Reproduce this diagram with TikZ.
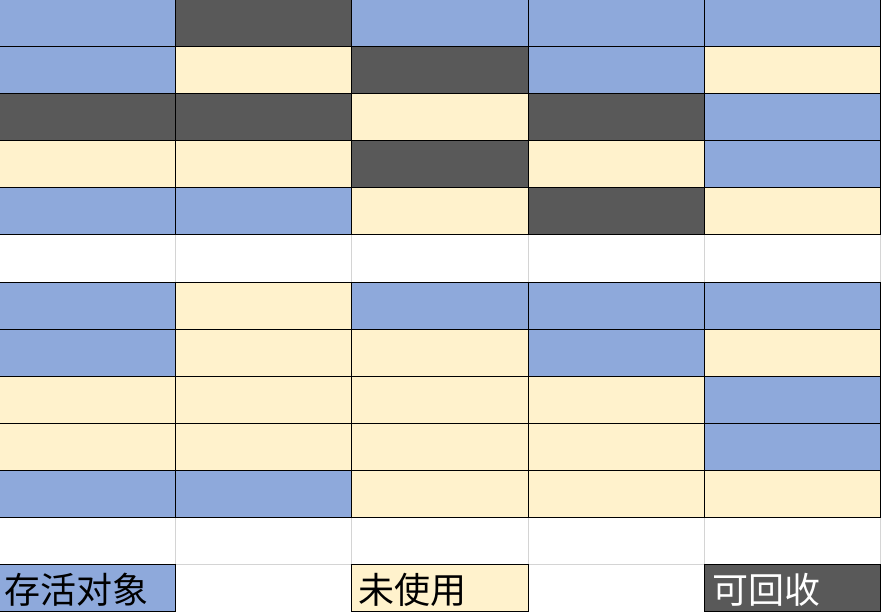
\documentclass[tikz,border=0pt]{standalone}
\usepackage{fontspec}
\newfontfamily\cjk{Noto Sans CJK SC}
\definecolor{live}{HTML}{8EA9DB}
\definecolor{dead}{HTML}{595959}
\definecolor{free}{HTML}{FFF2CC}
\definecolor{gridgray}{HTML}{D4D4D4}
\tikzset{
  cell/.style={minimum width=176.2pt, minimum height=47.08pt, inner sep=0pt, outer sep=0pt,
    anchor=north west, draw=black, line width=0.9pt},
  cellB/.style={cell, fill=live},
  cellD/.style={cell, fill=dead},
  cellY/.style={cell, fill=free},
  legendtext/.style={anchor=west, inner sep=0pt, font=\cjk\fontsize{36}{36}\selectfont},
}
\begin{document}
\begin{tikzpicture}
\path[use as bounding box, clip] (0.5pt,-0.5pt) rectangle (881.5pt,-612.5pt);
\fill[white] (0pt,0pt) rectangle (882pt,-613pt);
\draw[gridgray, line width=0.9pt, xstep=176.2pt, ystep=47.08pt] (0pt,-612.04pt) grid (881pt,0pt);
\foreach \rowlist [count=\r from 0] in {
  {B,D,B,B,B},
  {B,Y,D,B,Y},
  {D,D,Y,D,B},
  {Y,Y,D,Y,B},
  {B,B,Y,D,Y}}{
  \foreach \t [count=\c from 0] in \rowlist {
    \node[cell\t] (cell-\r-\c) at (\c*176.2pt, -\r*47.08pt) {};
  }
}
\foreach \rowlist [count=\r from 6] in {
  {B,Y,B,B,B},
  {B,Y,Y,B,Y},
  {Y,Y,Y,Y,B},
  {Y,Y,Y,Y,B},
  {B,B,Y,Y,Y}}{
  \foreach \t [count=\c from 0] in \rowlist {
    \node[cell\t] (cell-\r-\c) at (\c*176.2pt, -\r*47.08pt) {};
  }
}
\node[cellB] (leg-live) at (0pt, -12*47.08pt) {};
\node[cellY] (leg-free) at (2*176.2pt, -12*47.08pt) {};
\node[cellD] (leg-dead) at (4*176.2pt, -12*47.08pt) {};
\node[legendtext] (t-live) at ([xshift=5pt, yshift=-2pt]leg-live.west) {存活对象};
\node[legendtext] (t-free) at ([xshift=6pt, yshift=-2pt]leg-free.west) {未使用};
\node[legendtext, text=white] (t-dead) at ([xshift=8pt, yshift=-2pt]leg-dead.west) {可回收};
\end{tikzpicture}
\end{document}
